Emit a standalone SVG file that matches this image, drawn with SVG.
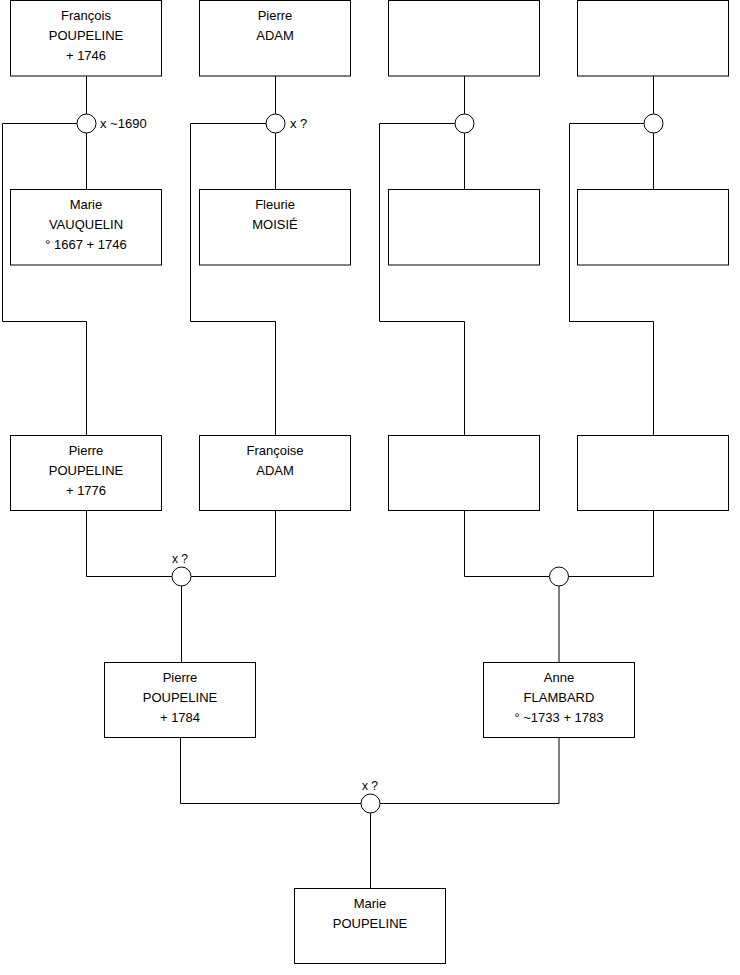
<svg xmlns="http://www.w3.org/2000/svg" width="740" height="975" viewBox="0 0 740 975">
<style>
.box{fill:#fff;stroke:#000;stroke-width:1}
.ring{fill:#fff;stroke:#000;stroke-width:1}
.ln{fill:none;stroke:#000;stroke-width:1}
text{font-family:"Liberation Sans",Arial,sans-serif;font-size:13px;fill:#000}
.c{text-anchor:middle}
.lbl{font-size:12px}
</style>
<rect width="740" height="975" fill="#fff"/>
<g id="connectors">
<path class="ln" d="M86.5 76V114M86.5 133V189.5"/>
<path class="ln" d="M275.5 76V114M275.5 133V189.5"/>
<path class="ln" d="M464.5 76V114M464.5 133V189.5"/>
<path class="ln" d="M653.5 76V114M653.5 133V189.5"/>
<path class="ln" d="M77 123.5H2.5V321.5H86.5V435.5"/>
<path class="ln" d="M266 123.5H190.5V321.5H275.5V435.5"/>
<path class="ln" d="M455 123.5H379.5V321.5H464.5V435.5"/>
<path class="ln" d="M644 123.5H569.5V321.5H653.5V435.5"/>
<path class="ln" d="M86.5 510.5V576.5H172"/>
<path class="ln" d="M275.5 510.5V576.5H191"/>
<path class="ln" d="M181.5 586V662.5"/>
<path class="ln" d="M464.5 510.5V576.5H549.5"/>
<path class="ln" d="M653.5 510.5V576.5H568.5"/>
<path class="ln" d="M559 586V662.5"/>
<path class="ln" d="M180.5 737.5V803.5H361"/>
<path class="ln" d="M559 737.5V803.5H380"/>
<path class="ln" d="M370.5 813V888.5"/>
</g>
<g id="union1"><circle class="ring" cx="86.5" cy="123.5" r="9.5"/><text x="100" y="128">x ~1690</text></g>
<g id="union2"><circle class="ring" cx="275.5" cy="123.5" r="9.5"/><text x="290" y="128">x ?</text></g>
<g id="union3"><circle class="ring" cx="464.5" cy="123.5" r="9.5"/></g>
<g id="union4"><circle class="ring" cx="653.5" cy="123.5" r="9.5"/></g>
<g id="union5"><circle class="ring" cx="181.5" cy="576.5" r="9.5"/><text class="c lbl" x="180" y="563">x ?</text></g>
<g id="union6"><circle class="ring" cx="559" cy="576.5" r="9.5"/></g>
<g id="union7"><circle class="ring" cx="370.5" cy="803.5" r="9.5"/><text class="c lbl" x="370" y="790">x ?</text></g>

<g id="francois"><rect class="box" x="10.5" y="0.5" width="151" height="75.5"/>
<text class="c" x="86" y="20">François</text><text class="c" x="86" y="40">POUPELINE</text><text class="c" x="86" y="60">+ 1746</text></g>
<g id="pierre-adam"><rect class="box" x="199.5" y="0.5" width="151" height="75.5"/>
<text class="c" x="275" y="20">Pierre</text><text class="c" x="275" y="40">ADAM</text></g>
<g id="unknown1"><rect class="box" x="388.5" y="0.5" width="151" height="75.5"/></g>
<g id="unknown2"><rect class="box" x="577.5" y="0.5" width="151" height="75.5"/></g>

<g id="marie-vauquelin"><rect class="box" x="10.5" y="189.5" width="151" height="75.5"/>
<text class="c" x="86" y="209">Marie</text><text class="c" x="86" y="229">VAUQUELIN</text><text class="c" x="86" y="249">° 1667 + 1746</text></g>
<g id="fleurie"><rect class="box" x="199.5" y="189.5" width="151" height="75.5"/>
<text class="c" x="275" y="209">Fleurie</text><text class="c" x="275" y="229">MOISIÉ</text></g>
<g id="unknown3"><rect class="box" x="388.5" y="189.5" width="151" height="75.5"/></g>
<g id="unknown4"><rect class="box" x="577.5" y="189.5" width="151" height="75.5"/></g>

<g id="pierre-1776"><rect class="box" x="10.5" y="435.5" width="151" height="75"/>
<text class="c" x="86" y="455">Pierre</text><text class="c" x="86" y="475">POUPELINE</text><text class="c" x="86" y="495">+ 1776</text></g>
<g id="francoise"><rect class="box" x="199.5" y="435.5" width="151" height="75"/>
<text class="c" x="275" y="455">Françoise</text><text class="c" x="275" y="475">ADAM</text></g>
<g id="unknown5"><rect class="box" x="388.5" y="435.5" width="151" height="75"/></g>
<g id="unknown6"><rect class="box" x="577.5" y="435.5" width="151" height="75"/></g>

<g id="pierre-1784"><rect class="box" x="104.5" y="662.5" width="151" height="75"/>
<text class="c" x="180" y="682">Pierre</text><text class="c" x="180" y="702">POUPELINE</text><text class="c" x="180" y="722">+ 1784</text></g>
<g id="anne"><rect class="box" x="483.5" y="662.5" width="151" height="75"/>
<text class="c" x="559" y="682">Anne</text><text class="c" x="559" y="702">FLAMBARD</text><text class="c" x="559" y="722">° ~1733 + 1783</text></g>

<g id="marie-poupeline"><rect class="box" x="294.5" y="888.5" width="151" height="75"/>
<text class="c" x="370" y="908">Marie</text><text class="c" x="370" y="928">POUPELINE</text></g>
</svg>
